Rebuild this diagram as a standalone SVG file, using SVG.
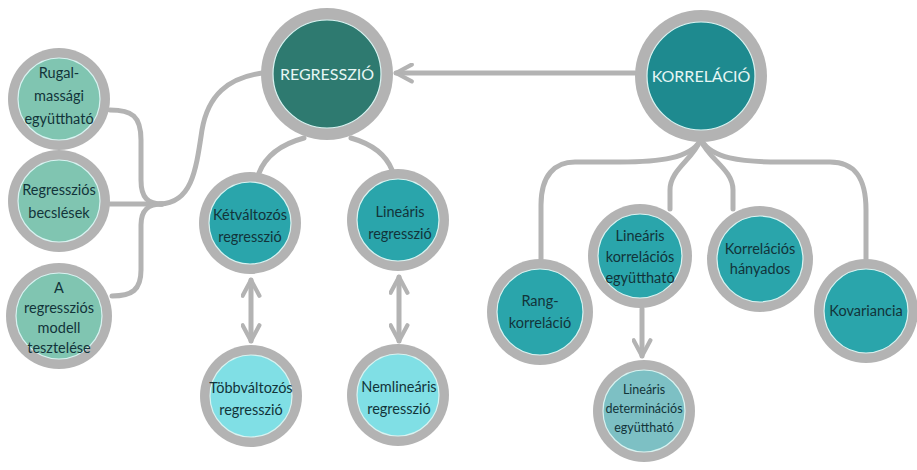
<svg xmlns="http://www.w3.org/2000/svg" width="917" height="470" viewBox="0 0 917 470">
  <defs>
    <style>
      .ring { fill: #b3b3b3; }
      .core { stroke: #d8f3f1; stroke-width: 1.2; }
      .c-top1 { fill: #2e7a70; }
      .c-top2 { fill: #1e8a8f; }
      .c-sea { fill: #80c5b1; }
      .c-teal { fill: #2aa5ab; }
      .c-light { fill: #80dfe5; }
      .c-muted { fill: #7dc0c4; }
      .lbl { font-family: Lato, "Open Sans", "Liberation Sans", sans-serif; font-size: 14.5px; fill: #12343a; text-anchor: middle; }
      .lbl-sm { font-size: 12.5px; }
      .head { font-family: Lato, "Open Sans", "Liberation Sans", sans-serif; font-size: 16px; fill: #e6f6f4; text-anchor: middle; }
      .wire { fill: none; stroke: #b3b3b3; stroke-width: 5; stroke-linecap: round; }
    </style>
    <marker id="chev" viewBox="0 0 10 10" refX="8.5" refY="5" markerWidth="4.2" markerHeight="4.2" orient="auto-start-reverse" markerUnits="strokeWidth">
      <path d="M1,1 L8.5,5 L1,9" fill="none" stroke="#b3b3b3" stroke-width="2" stroke-linecap="round" stroke-linejoin="round"/>
    </marker>
  </defs>

  <!-- connectors -->
  <g id="connectors">
    <!-- left cluster into REGRESSZIÓ -->
    <path class="wire" d="M262,73 C228,78 208,95 202,130 C196,170 192,203 160,204"/>
    <path class="wire" d="M110,110 C132,110 141,116 141,140 L141,180 C141,198 148,204 162,204"/>
    <path class="wire" d="M110,204 L162,204"/>
    <path class="wire" d="M112,296 C132,296 141,290 141,270 L141,225 C141,210 148,204 162,204"/>
    <!-- REGRESSZIÓ to its children -->
    <path class="wire" d="M304,138 C282,144 266,155 259,173"/>
    <path class="wire" d="M351,138 C372,144 386,155 392,170"/>
    <!-- KORRELÁCIÓ to REGRESSZIÓ -->
    <path class="wire" d="M635,73 L396,73" marker-end="url(#chev)"/>
    <!-- KORRELÁCIÓ to its children -->
    <path class="wire" d="M700,141 C690,158 660,162 620,162 L575,162 C555,162 541,175 541,205 L541,259"/>
    <path class="wire" d="M700,141 C692,160 670,170 670,190 L670,209"/>
    <path class="wire" d="M701,141 C710,160 733,170 733,190 L733,209"/>
    <path class="wire" d="M702,141 C712,158 740,162 780,162 L830,162 C855,162 866,178 866,210 L866,259"/>
    <!-- vertical arrows -->
    <path class="wire" d="M251,280 L251,341" marker-start="url(#chev)" marker-end="url(#chev)"/>
    <path class="wire" d="M399,277 L399,341" marker-start="url(#chev)" marker-end="url(#chev)"/>
    <path class="wire" d="M642,309 L642,356" marker-end="url(#chev)"/>
  </g>

  <!-- nodes -->
  <g id="regresszio">
    <circle class="ring" cx="327" cy="74" r="66"/>
    <circle class="core c-top1" cx="327" cy="74" r="54"/>
    <text class="head" x="327" y="80">REGRESSZIÓ</text>
  </g>
  <g id="korrelacio">
    <circle class="ring" cx="701" cy="76" r="66"/>
    <circle class="core c-top2" cx="701" cy="76" r="54"/>
    <text class="head" x="701" y="82">KORRELÁCIÓ</text>
  </g>

  <g id="rugalmassagi">
    <circle class="ring" cx="59" cy="99" r="51"/>
    <circle class="core c-sea" cx="59" cy="99" r="41"/>
    <text class="lbl" x="59" y="78">Rugal-</text>
    <text class="lbl" x="59" y="101">massági</text>
    <text class="lbl" x="59" y="124">együttható</text>
  </g>
  <g id="becslesek">
    <circle class="ring" cx="59" cy="201" r="51"/>
    <circle class="core c-sea" cx="59" cy="201" r="41"/>
    <text class="lbl" x="59" y="195">Regressziós</text>
    <text class="lbl" x="59" y="218">becslések</text>
  </g>
  <g id="teszteles">
    <circle class="ring" cx="59" cy="316" r="53"/>
    <circle class="core c-sea" cx="59" cy="316" r="43"/>
    <text class="lbl" x="59" y="293">A</text>
    <text class="lbl" x="59" y="313">regressziós</text>
    <text class="lbl" x="59" y="333">modell</text>
    <text class="lbl" x="59" y="353">tesztelése</text>
  </g>

  <g id="ketvaltozos">
    <circle class="ring" cx="250" cy="223" r="51"/>
    <circle class="core c-teal" cx="250" cy="223" r="41"/>
    <text class="lbl" x="250" y="220">Kétváltozós</text>
    <text class="lbl" x="250" y="242">regresszió</text>
  </g>
  <g id="linearis-regresszio">
    <circle class="ring" cx="398" cy="220" r="51"/>
    <circle class="core c-teal" cx="398" cy="220" r="41"/>
    <text class="lbl" x="400" y="217">Lineáris</text>
    <text class="lbl" x="400" y="239">regresszió</text>
  </g>
  <g id="tobbvaltozos">
    <circle class="ring" cx="251" cy="396" r="51"/>
    <circle class="core c-light" cx="251" cy="396" r="41"/>
    <text class="lbl" x="251" y="393">Többváltozós</text>
    <text class="lbl" x="251" y="415">regresszió</text>
  </g>
  <g id="nemlinearis">
    <circle class="ring" cx="398" cy="395" r="51"/>
    <circle class="core c-light" cx="398" cy="395" r="41"/>
    <text class="lbl" x="399" y="392">Nemlineáris</text>
    <text class="lbl" x="399" y="414">regresszió</text>
  </g>

  <g id="rangkorrelacio">
    <circle class="ring" cx="540" cy="312" r="53"/>
    <circle class="core c-teal" cx="540" cy="312" r="43"/>
    <text class="lbl" x="540" y="306">Rang-</text>
    <text class="lbl" x="540" y="328">korreláció</text>
  </g>
  <g id="linearis-korrelacios">
    <circle class="ring" cx="640" cy="256" r="52"/>
    <circle class="core c-teal" cx="640" cy="256" r="42"/>
    <text class="lbl" x="640" y="241">Lineáris</text>
    <text class="lbl" x="640" y="262">korrelációs</text>
    <text class="lbl" x="640" y="283">együttható</text>
  </g>
  <g id="hanyados">
    <circle class="ring" cx="760" cy="259" r="53"/>
    <circle class="core c-teal" cx="760" cy="259" r="43"/>
    <text class="lbl" x="760" y="254">Korrelációs</text>
    <text class="lbl" x="760" y="274">hányados</text>
  </g>
  <g id="kovariancia">
    <circle class="ring" cx="866" cy="311" r="52"/>
    <circle class="core c-teal" cx="866" cy="311" r="42"/>
    <text class="lbl" x="866" y="316">Kovariancia</text>
  </g>
  <g id="determinacios">
    <circle class="ring" cx="644" cy="411" r="51"/>
    <circle class="core c-muted" cx="644" cy="411" r="41"/>
    <text class="lbl lbl-sm" x="644" y="394">Lineáris</text>
    <text class="lbl lbl-sm" x="644" y="413">determinációs</text>
    <text class="lbl lbl-sm" x="644" y="432">együttható</text>
  </g>
</svg>
